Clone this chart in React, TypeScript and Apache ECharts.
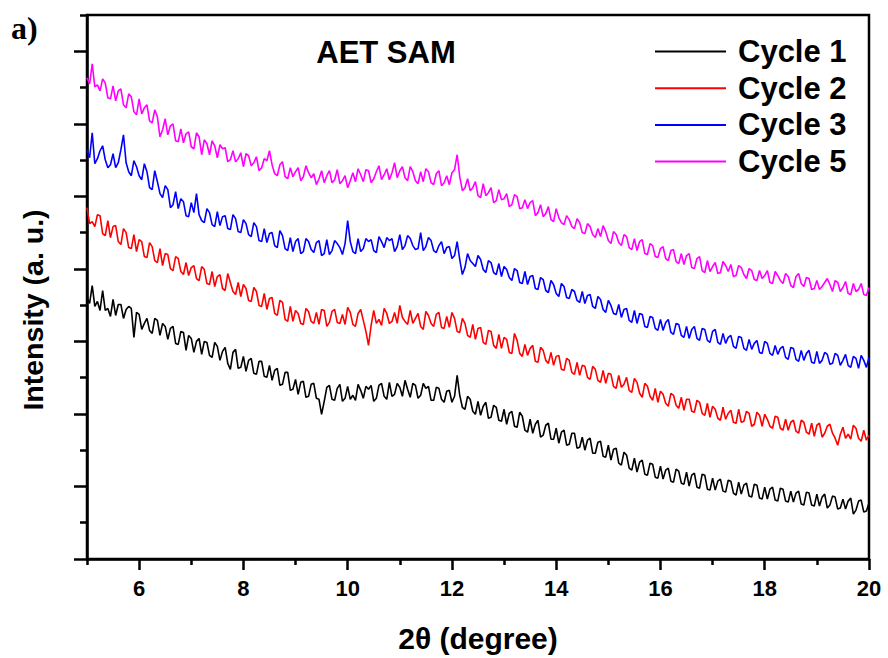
import { useEffect, useRef } from "react";
import * as echarts from "echarts";

// 2θ sampling of the scans (degrees)
const X_START = 5;
const X_STEP = 0.05;

// Intensities (a. u.), one value per 0.05° from 5.00° to 20.00°
const cycle1 = [
  262, 256, 274, 253, 258, 249, 269, 249, 251, 243, 260, 244, 255, 255, 241, 250, 253, 251, 222, 247,
  245, 230, 236, 241, 229, 226, 241, 239, 224, 236, 233, 220, 231, 233, 216, 215, 228, 227, 209, 224,
  221, 207, 218, 221, 205, 218, 217, 204, 202, 217, 213, 199, 208, 212, 196, 190, 207, 210, 191, 192,
  203, 188, 199, 201, 186, 185, 198, 198, 183, 182, 194, 179, 189, 191, 174, 175, 187, 187, 169, 170,
  180, 165, 177, 178, 162, 163, 175, 176, 161, 160, 145, 158, 172, 174, 160, 159, 171, 175, 158, 161,
  173, 160, 164, 159, 175, 169, 161, 173, 170, 174, 158, 161, 174, 176, 163, 160, 177, 163, 165, 176,
  172, 163, 179, 170, 162, 176, 174, 161, 164, 176, 171, 173, 159, 159, 172, 171, 160, 157, 168, 169,
  157, 163, 184, 164, 152, 150, 163, 160, 148, 145, 158, 144, 153, 157, 141, 142, 154, 152, 139, 138,
  150, 135, 146, 148, 133, 132, 147, 143, 129, 127, 140, 126, 135, 139, 122, 124, 134, 136, 120, 120,
  131, 116, 127, 129, 114, 115, 126, 126, 111, 112, 122, 109, 119, 121, 106, 106, 117, 118, 103, 102,
  114, 99, 110, 111, 96, 94, 107, 104, 91, 89, 101, 87, 97, 99, 85, 84, 96, 95, 82, 81,
  93, 80, 89, 91, 78, 77, 90, 88, 76, 75, 87, 73, 84, 86, 72, 71, 85, 84, 70, 69,
  81, 69, 78, 80, 68, 67, 79, 78, 66, 64, 77, 65, 74, 76, 63, 62, 75, 74, 61, 60,
  72, 60, 70, 72, 59, 58, 71, 70, 58, 57, 68, 57, 66, 68, 55, 54, 67, 66, 54, 53,
  65, 53, 62, 65, 51, 54, 63, 62, 50, 51, 60, 50, 58, 61, 45, 49, 58, 59, 47, 48,
  56,
];

const cycle2 = [
  352, 336, 338, 333, 345, 344, 326, 324, 339, 322, 333, 334, 318, 315, 331, 327, 312, 311, 325, 308,
  320, 318, 303, 302, 317, 313, 299, 297, 311, 294, 306, 305, 291, 289, 303, 301, 288, 285, 297, 284,
  292, 294, 281, 279, 293, 290, 276, 275, 288, 273, 283, 285, 271, 269, 286, 277, 268, 265, 277, 263,
  275, 271, 259, 258, 272, 268, 254, 253, 266, 250, 261, 262, 246, 244, 259, 257, 240, 238, 253, 238,
  249, 246, 236, 235, 251, 248, 238, 236, 247, 235, 250, 249, 233, 237, 248, 250, 237, 236, 245, 235,
  252, 247, 235, 233, 246, 250, 239, 228, 214, 234, 249, 236, 240, 234, 251, 246, 236, 238, 247, 236,
  254, 242, 238, 235, 249, 236, 241, 246, 233, 230, 248, 244, 236, 233, 245, 247, 232, 231, 243, 232,
  247, 241, 228, 227, 241, 236, 224, 222, 235, 220, 231, 232, 217, 215, 229, 228, 214, 211, 225, 211,
  222, 220, 207, 206, 226, 219, 206, 203, 215, 204, 211, 214, 198, 197, 212, 209, 199, 196, 207, 194,
  203, 204, 190, 189, 201, 199, 187, 185, 197, 184, 194, 193, 182, 180, 193, 190, 179, 177, 189, 176,
  186, 185, 173, 171, 184, 172, 175, 182, 169, 167, 181, 177, 166, 162, 176, 173, 163, 159, 171, 157,
  168, 165, 156, 153, 166, 164, 154, 151, 162, 149, 160, 160, 148, 147, 159, 157, 146, 144, 156, 142,
  153, 150, 141, 139, 152, 140, 146, 149, 137, 136, 150, 137, 138, 148, 146, 133, 135, 147, 144, 133,
  145, 140, 133, 131, 143, 142, 131, 129, 140, 129, 137, 139, 128, 126, 139, 137, 127, 125, 136, 123,
  134, 136, 122, 126, 133, 135, 126, 121, 114, 125, 132, 121, 125, 120, 134, 131, 121, 118, 129, 119,
  124,
];

const cycle3 = [
  410, 402, 427, 396, 401, 409, 414, 400, 392, 395, 406, 392, 397, 410, 425, 397, 388, 384, 399, 393,
  384, 380, 396, 388, 372, 370, 389, 378, 366, 362, 374, 370, 352, 355, 368, 351, 361, 358, 344, 343,
  357, 347, 366, 345, 339, 337, 351, 347, 335, 333, 348, 334, 343, 344, 331, 330, 345, 341, 328, 327,
  340, 336, 325, 323, 337, 333, 319, 318, 331, 317, 326, 327, 314, 312, 329, 324, 311, 309, 322, 308,
  318, 321, 306, 308, 321, 318, 310, 307, 317, 319, 304, 306, 320, 305, 309, 319, 316, 312, 305, 316,
  339, 318, 308, 306, 321, 308, 311, 321, 318, 320, 309, 307, 323, 318, 312, 322, 319, 321, 308, 313,
  325, 310, 314, 324, 321, 314, 310, 311, 327, 309, 313, 322, 319, 309, 307, 314, 318, 306, 312, 313,
  301, 304, 318, 300, 285, 292, 306, 299, 296, 293, 304, 300, 290, 287, 299, 297, 287, 285, 296, 283,
  293, 290, 282, 279, 291, 289, 277, 276, 288, 275, 283, 284, 271, 270, 282, 280, 269, 267, 279, 275,
  266, 263, 276, 273, 262, 261, 270, 268, 259, 257, 268, 256, 264, 265, 253, 251, 263, 260, 250, 247,
  259, 254, 246, 245, 255, 242, 250, 251, 239, 237, 249, 236, 246, 245, 233, 232, 243, 242, 231, 229,
  240, 229, 237, 240, 227, 225, 236, 235, 224, 222, 233, 221, 230, 233, 221, 219, 231, 230, 219, 217,
  228, 230, 217, 215, 226, 216, 222, 224, 213, 211, 223, 222, 211, 209, 220, 210, 216, 219, 207, 206,
  218, 216, 206, 204, 214, 205, 211, 213, 202, 200, 212, 211, 200, 198, 209, 199, 206, 209, 197, 196,
  208, 196, 199, 207, 205, 195, 196, 206, 204, 194, 199, 205, 194, 192, 203, 201, 191, 204, 199, 192,
  202,
];

const cycle5 = [
  482, 476, 496, 473, 475, 469, 481, 477, 462, 461, 474, 459, 469, 471, 455, 452, 466, 463, 448, 445,
  461, 446, 452, 455, 439, 437, 450, 443, 423, 430, 441, 425, 434, 436, 419, 418, 431, 417, 426, 428,
  413, 411, 427, 423, 405, 420, 416, 405, 419, 414, 402, 415, 411, 412, 398, 400, 409, 398, 401, 407,
  393, 406, 404, 394, 397, 403, 389, 392, 401, 399, 409, 395, 386, 384, 395, 398, 383, 381, 392, 383,
  388, 392, 379, 383, 394, 387, 382, 386, 375, 381, 389, 377, 384, 389, 377, 380, 390, 376, 379, 384,
  372, 379, 387, 378, 391, 385, 378, 390, 389, 377, 381, 388, 394, 380, 385, 391, 380, 387, 397, 382,
  389, 393, 382, 379, 393, 388, 379, 376, 388, 378, 391, 388, 377, 375, 386, 389, 374, 377, 384, 375,
  387, 390, 405, 383, 369, 372, 381, 369, 372, 378, 364, 362, 376, 364, 367, 372, 357, 359, 370, 360,
  361, 366, 353, 355, 365, 363, 351, 352, 360, 351, 357, 359, 344, 347, 355, 343, 346, 353, 340, 338,
  351, 342, 337, 335, 344, 340, 333, 331, 341, 337, 327, 326, 336, 333, 325, 322, 331, 323, 334, 328,
  319, 316, 328, 325, 317, 314, 325, 323, 312, 310, 321, 309, 318, 320, 306, 305, 316, 314, 303, 302,
  311, 313, 301, 299, 309, 310, 298, 296, 306, 295, 304, 306, 292, 291, 301, 303, 289, 287, 299, 288,
  293, 297, 286, 287, 298, 294, 288, 295, 283, 284, 294, 292, 285, 281, 291, 289, 280, 279, 289, 281,
  284, 289, 277, 276, 288, 284, 279, 276, 286, 283, 274, 272, 283, 286, 276, 273, 282, 281, 270, 271,
  279, 270, 273, 277, 281, 275, 268, 279, 277, 268, 272, 278, 266, 265, 276, 268, 270, 276, 265, 264,
  272,
];

const seriesNames = ["Cycle 1", "Cycle 2", "Cycle 3", "Cycle 5"];
const seriesColors = ["#000000", "#ff0000", "#0000ff", "#ff00ff"];
const seriesData = [cycle1, cycle2, cycle3, cycle5];

// Axes
const X_MIN = 5;
const X_MAX = 20;
const xMajorTicks = [6, 8, 10, 12, 14, 16, 18, 20];
const xMinorTicks = [5, 7, 9, 11, 13, 15, 17, 19];
const Y_MIN = 0;
const Y_MAX = 545;
const Y_STEP = Y_MAX / 7.5;
const yMajorTicks = [0, 1, 2, 3, 4, 5, 6, 7].map((k) => k * Y_STEP);
const yMinorTicks = [0, 1, 2, 3, 4, 5, 6, 7].map((k) => (k + 0.5) * Y_STEP);

const SANS = 'Arial, "Liberation Sans", Helvetica, sans-serif';
const SERIF = '"Times New Roman", "Liberation Serif", serif';

export default function App() {
  const ref = useRef<HTMLDivElement>(null);

  useEffect(() => {
    if (!ref.current) return;
    const chart = echarts.init(ref.current, undefined, { renderer: "svg" });
    const axisLineStyle = { color: "#000", width: 2.5 };

    chart.setOption({
      animation: false,
      backgroundColor: "#ffffff",
      grid: {
        left: 87,
        right: 19,
        top: 15,
        bottom: 98,
        show: true,
        borderColor: "#000",
        borderWidth: 2.5,
        backgroundColor: "transparent",
      },
      legend: {
        orient: "vertical",
        left: 650,
        top: 31,
        itemWidth: 71,
        itemHeight: 2,
        itemGap: 5.7,
        icon: "rect",
        data: seriesNames,
        textStyle: {
          fontFamily: SANS,
          fontWeight: "bold",
          fontSize: 31,
          lineHeight: 30,
          color: "#000",
          padding: [0, 0, 0, 7],
        },
      },
      xAxis: [
        {
          type: "value",
          min: X_MIN,
          max: X_MAX,
          name: "2θ (degree)",
          nameLocation: "middle",
          nameGap: 64,
          nameTextStyle: {
            fontFamily: SANS,
            fontWeight: "bold",
            fontSize: 30,
            color: "#000",
          },
          axisLine: { show: true, lineStyle: axisLineStyle },
          axisTick: {
            show: true,
            inside: false,
            length: 11,
            customValues: xMajorTicks,
            lineStyle: axisLineStyle,
          },
          axisLabel: {
            show: true,
            customValues: xMajorTicks,
            margin: 18,
            fontFamily: SANS,
            fontWeight: "bold",
            fontSize: 22,
            color: "#000",
          },
          splitLine: { show: false },
        },
        {
          type: "value",
          min: X_MIN,
          max: X_MAX,
          position: "bottom",
          axisLine: { show: false },
          axisTick: {
            show: true,
            inside: false,
            length: 6,
            customValues: xMinorTicks,
            lineStyle: axisLineStyle,
          },
          axisLabel: { show: false },
          splitLine: { show: false },
        },
      ],
      yAxis: [
        {
          type: "value",
          min: Y_MIN,
          max: Y_MAX,
          axisLine: { show: true, lineStyle: axisLineStyle },
          axisTick: {
            show: true,
            inside: false,
            length: 13,
            customValues: yMajorTicks,
            lineStyle: axisLineStyle,
          },
          axisLabel: { show: false },
          splitLine: { show: false },
        },
        {
          type: "value",
          min: Y_MIN,
          max: Y_MAX,
          position: "left",
          axisLine: { show: false },
          axisTick: {
            show: true,
            inside: false,
            length: 7,
            customValues: yMinorTicks,
            lineStyle: axisLineStyle,
          },
          axisLabel: { show: false },
          splitLine: { show: false },
        },
      ],
      graphic: [
        {
          type: "text",
          x: 11,
          y: 28,
          style: {
            text: "a)",
            font: `bold 32px ${SERIF}`,
            fill: "#000",
            align: "left",
            verticalAlign: "middle",
          },
        },
        {
          type: "text",
          x: 386,
          y: 52,
          style: {
            text: "AET SAM",
            font: `bold 31px ${SANS}`,
            fill: "#000",
            align: "center",
            verticalAlign: "middle",
          },
        },
        {
          type: "text",
          x: 33,
          y: 310,
          rotation: Math.PI / 2,
          style: {
            text: "Intensity (a. u.)",
            font: `bold 28.5px ${SANS}`,
            fill: "#000",
            align: "center",
            verticalAlign: "middle",
          },
        },
      ],
      series: seriesData.map((values, idx) => ({
        name: seriesNames[idx],
        type: "line",
        xAxisIndex: 0,
        yAxisIndex: 0,
        data: values.map((v, i) => [X_START + i * X_STEP, v]),
        symbol: "none",
        showSymbol: false,
        lineStyle: { width: 1.6, color: seriesColors[idx] },
        itemStyle: { color: seriesColors[idx] },
        emphasis: { disabled: true },
      })),
    });

    return () => chart.dispose();
  }, []);

  return (
    <div
      ref={ref}
      style={{ position: "fixed", left: 0, top: 0, width: 888, height: 658 }}
    />
  );
}
